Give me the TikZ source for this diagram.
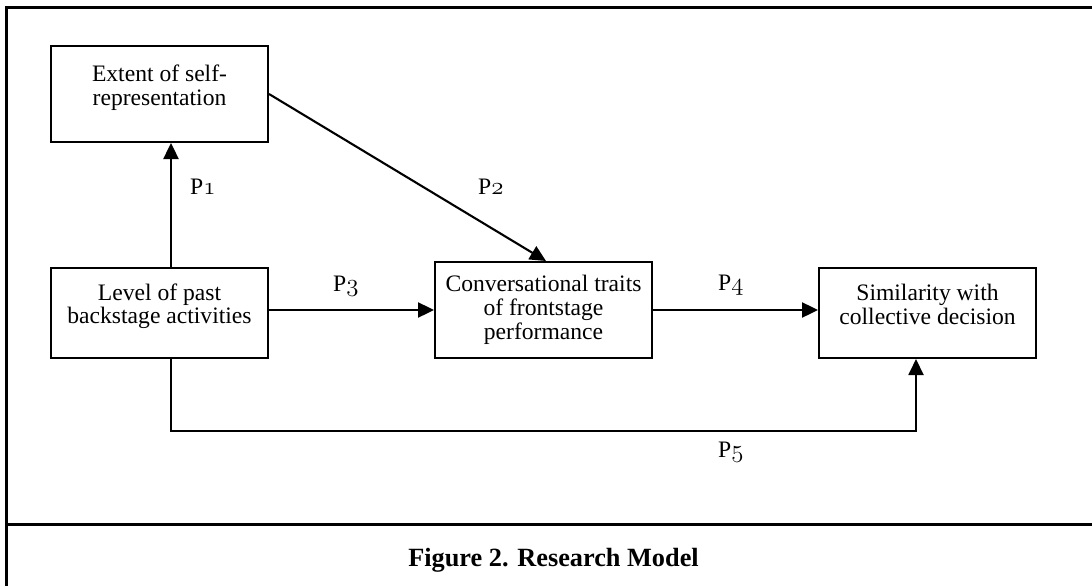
\documentclass[tikz,border=0pt]{standalone}
\usepackage{fontspec}
\setmainfont{Liberation Serif}
\usetikzlibrary{arrows.meta}
\newcommand\osnum[1]{{\usefont{OML}{lmm}{m}{it}#1}}
\tikzset{
  box/.style={draw, line width=2pt, inner sep=0pt, anchor=north west,
    font=\fontsize{23.6}{23.7}\selectfont},
  arr/.style={line width=2.4pt, -{Triangle[length=16pt,width=15pt]}},
  lab/.style={anchor=base west, inner sep=0pt, font=\fontsize{23.6}{24}\selectfont},
  frame/.style={line width=2.8pt},
}
\begin{document}
\begin{tikzpicture}[x=1pt,y=-1pt]
\useasboundingbox[fill=white] (0,0) rectangle (1092,586);
% outer frame and separator
\draw[frame] (6.7,586) -- (6.7,7.7) -- (1092,7.7);
\draw[frame] (6.7,524.7) -- (1092,524.7);
% boxes
\node[box, text height=35.7pt, text depth=60.3pt] (A) at (50,45)
  {\parbox[t]{217pt}{\centering Extent of self-\\representation}};
\node[box, text height=32pt, text depth=58pt] (B) at (50,267)
  {\parbox[t]{217pt}{\centering Level of past\\backstage activities}};
\node[box, text height=29.7pt, text depth=66.3pt] (C) at (434,261)
  {\parbox[t]{217pt}{\centering Conversational traits\\of frontstage\\performance}};
\node[box, text height=32.3pt, text depth=57.7pt] (D) at (818,267)
  {\parbox[t]{217pt}{\centering Similarity with\\collective decision}};
% connectors
\draw[arr] ([xshift=11.5pt]B.north) -- ([xshift=11.5pt]A.south);
\draw[arr, line width=2.1pt] (A.east) -- ([xshift=2.5pt]C.north);
\draw[arr] (C.west -| B.east) -- (C.west);
\draw[arr] (C.east) -- (C.east -| D.west);
\draw[arr, line width=1.9pt] ([xshift=11.5pt]B.south) |- ([xshift=-11.5pt,yshift=-72pt]D.south) -- ([xshift=-11.5pt]D.south);
% labels
\node[lab] (p1) at (190,194) {P\osnum{1}};
\node[lab] (p2) at (478,194) {P\osnum{2}};
\node[lab] (p3) at (333,291) {P\osnum{3}};
\node[lab] (p4) at (718,290.7) {P\osnum{4}};
\node[lab] (p5) at (718,457.7) {P\osnum{5}};
% caption
\node[anchor=base, inner sep=0pt, font=\bfseries\fontsize{26.3}{28}\selectfont] (cap) at (553.5,566) {Figure 2. Research Model};
\end{tikzpicture}
\end{document}
